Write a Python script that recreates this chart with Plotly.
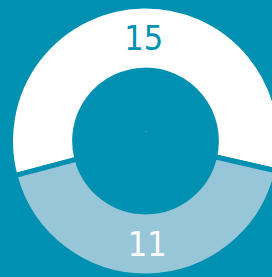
import plotly.graph_objects as go

labels = ["A", "B"]
values = [15, 11]
slice_colors = ["#ffffff", "#97c6d8"]
text_colors = ["#0090b1", "#ffffff"]

BG = "#0090b1"
W, H = 291, 282
cx, cy, r = 145.5, 141, 135

fig = go.Figure(go.Pie(
    labels=labels,
    values=values,
    hole=0.525,
    sort=False,
    direction="clockwise",
    rotation=-(values[0] / sum(values)) * 180 - 1,
    marker=dict(colors=slice_colors, line=dict(color=BG, width=5)),
    texttemplate="%{value}",
    textposition="inside",
    insidetextorientation="horizontal",
    textfont=dict(family="DejaVu Sans Condensed", size=34, color=text_colors),
    showlegend=False,
    hoverinfo="none",
    domain=dict(x=[(cx - r) / W, (cx + r) / W], y=[(H - cy - r) / H, (H - cy + r) / H]),
))

fig.add_annotation(text=".", x=0.5, y=(H - cy + 11) / H, xref="paper", yref="paper",
                   showarrow=False, font=dict(size=6, color="#cfe6ee"))

fig.update_layout(
    width=W, height=H,
    margin=dict(l=0, r=0, t=0, b=0),
    paper_bgcolor=BG, plot_bgcolor=BG,
)

fig.write_html("out.html", config={"displayModeBar": False},
               post_script="document.body.style.overflow='hidden';document.documentElement.style.overflow='hidden';document.body.style.margin='0';")
